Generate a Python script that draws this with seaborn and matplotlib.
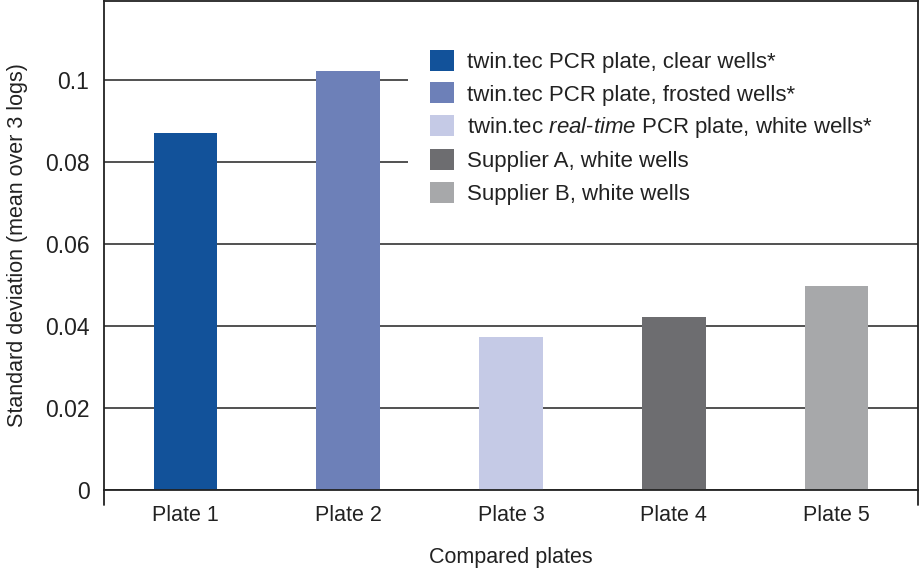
import matplotlib
matplotlib.use("Agg")
import matplotlib.pyplot as plt
import seaborn as sns
from matplotlib.patches import Patch, Rectangle

# Données
plates = ["Plate 1", "Plate 2", "Plate 3", "Plate 4", "Plate 5"]
std_dev = [0.0872, 0.1022, 0.0374, 0.0423, 0.0498]
colors = ["#12529a", "#6d80b8", "#c5cae6", "#6d6d70", "#a7a8aa"]
legend_labels = [
    "twin.tec PCR plate, clear wells*",
    "twin.tec PCR plate, frosted wells*",
    "twin.tec $\\it{real}$-$\\it{time}$ PCR plate, white wells*",
    "Supplier A, white wells",
    "Supplier B, white wells",
]
yticks = [0, 0.02, 0.04, 0.06, 0.08, 0.1]
ytick_labels = ["0", "0.02", "0.04", "0.06", "0.08", "0.1"]

sns.set_style("white")
plt.rcParams["font.family"] = ["Liberation Sans", "DejaVu Sans"]
plt.rcParams["mathtext.fontset"] = "custom"
plt.rcParams["mathtext.it"] = "Liberation Sans:italic"
plt.rcParams["mathtext.rm"] = "Liberation Sans"

fig = plt.figure(figsize=(9.2, 5.71), dpi=100)
ax = fig.add_axes([0.113, 0.142, 0.885, 0.857])

sns.barplot(x=plates, y=std_dev, hue=plates, palette=colors, width=0.39,
            legend=False, ax=ax, saturation=1, zorder=3,
            edgecolor="none", linewidth=0)

ax.set_xlim(-0.5, 4.5)
ax.set_ylim(0, 0.1195)
ax.set_yticks(yticks)
ax.set_yticklabels(ytick_labels)
ax.yaxis.grid(True, color="#222222", linewidth=1.1)
ax.set_axisbelow(True)

for side in ["top", "left", "right", "bottom"]:
    ax.spines[side].set_visible(True)
    ax.spines[side].set_color("#222222")
    ax.spines[side].set_linewidth(1.3)
    ax.spines[side].set_zorder(6)

ax.tick_params(axis="y", length=0, pad=10.5, labelsize=16.5, labelcolor="#222222")
ax.tick_params(axis="x", which="major", length=0, pad=11, labelsize=15.5,
               labelcolor="#222222")
ax.set_xticks([0.5, 1.5, 2.5, 3.5], minor=True)
ax.tick_params(axis="x", which="minor", length=7, width=1.2, color="#222222",
               direction="out")
# prolongement des bords sous l'axe
for x in [-0.5, 4.5]:
    ax.plot([x, x], [0, -0.03], transform=ax.get_xaxis_transform(),
            color="#222222", linewidth=1.3, clip_on=False)

ax.set_xlabel("Compared plates", fontsize=15.5, color="#222222", labelpad=15)
ax.set_ylabel("Standard deviation (mean over 3 logs)", fontsize=15.5,
              color="#222222", labelpad=12)

# fond blanc de la légende, jusqu'au bord droit
ax.add_patch(Rectangle((0.373, 0.54), 0.627, 0.40, transform=ax.transAxes,
                       facecolor="white", edgecolor="none", zorder=4))

handles = [Patch(facecolor=c, edgecolor="none") for c in colors]
leg = ax.legend(handles, legend_labels, loc="upper left",
                bbox_to_anchor=(0.40, 0.899), frameon=False, fontsize=16,
                handlelength=1.08, handleheight=1.08, handletextpad=0.59,
                labelspacing=0.42, borderpad=0, borderaxespad=0)
leg.set_zorder(5)
for t in leg.get_texts():
    t.set_color("#222222")

plt.savefig("out.png", dpi=100)
plt.close()
